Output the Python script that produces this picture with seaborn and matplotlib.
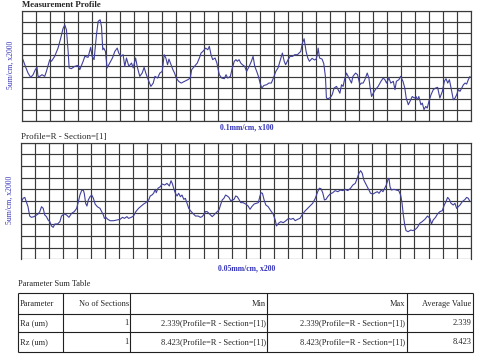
import numpy as np
import pandas as pd
import matplotlib
matplotlib.use("Agg")
import matplotlib.pyplot as plt
import seaborn as sns

# ---------------- data (x in grid divisions, y in grid divisions from bottom) -------------
top_x = [0.07, 0.24, 0.43, 0.62, 0.79, 0.95, 1.07, 1.14, 1.26, 1.43, 1.62, 1.74, 1.98, 2.1, 2.33,
         2.57, 2.76, 2.93, 3.05, 3.17, 3.29, 3.36, 3.52, 3.76, 4.0, 4.12, 4.36, 4.48, 4.71, 4.9,
         5.0, 5.14, 5.31, 5.43, 5.57, 5.67, 5.76, 5.83, 5.95, 6.07, 6.26, 6.45, 6.62, 6.79, 6.9,
         7.05, 7.21, 7.33, 7.45, 7.62, 7.81, 7.93, 8.1, 8.24, 8.4, 8.57, 8.71, 8.83, 9.0, 9.19,
         9.36, 9.48, 9.67, 9.83, 10.0, 10.14, 10.26, 10.38, 10.48, 10.65, 10.76, 10.88, 11.0,
         11.17, 11.35, 11.6, 11.83, 12.0, 12.1, 12.3, 12.5, 12.65, 12.77, 12.9, 13.0, 13.1, 13.25,
         13.36, 13.48, 13.6, 13.77, 13.9, 14.07, 14.24, 14.43, 14.55, 14.67, 14.86, 15.0, 15.14,
         15.26, 15.36, 15.48, 15.6, 15.72, 15.88, 16.02, 16.2, 16.36, 16.48, 16.6, 16.74, 16.86,
         16.98, 17.1, 17.26, 17.45, 17.6, 17.78, 17.93, 18.1, 18.26, 18.4, 18.57, 18.7, 18.8,
         18.98, 19.12, 19.3, 19.45, 19.64, 19.76, 19.88, 20.0, 20.12, 20.26, 20.38, 20.5, 20.69,
         20.86, 20.98, 21.05, 21.12, 21.22, 21.4, 21.52, 21.64, 21.71, 21.83, 22.0, 22.12, 22.26,
         22.43, 22.55, 22.67, 22.79, 22.9, 23.0, 23.14, 23.26, 23.38, 23.5, 23.6, 23.79, 23.93,
         24.1, 24.2, 24.33, 24.45, 24.62, 24.74, 24.83, 24.93, 25.05, 25.2, 25.4, 25.6, 25.76,
         25.88, 26.0, 26.17, 26.3, 26.48, 26.6, 26.7, 26.88, 27.0, 27.17, 27.3, 27.4, 27.55,
         27.67, 27.83, 27.98, 28.1, 28.2, 28.3, 28.45, 28.55, 28.67, 28.79, 28.9, 29.02, 29.17,
         29.33, 29.5, 29.64, 29.8, 29.98, 30.12, 30.24, 30.36, 30.48, 30.6, 30.76, 30.88, 31.0,
         31.12, 31.24, 31.36, 31.48, 31.6, 31.71, 31.83, 31.95]
top_y = [5.55, 4.94, 4.33, 3.94, 4.18, 4.64, 4.85, 4.03, 4.03, 4.18, 4.03, 4.48, 5.55, 5.4, 5.85,
         6.6, 7.5, 8.4, 8.7, 8.27, 6.3, 4.8, 4.73, 4.94, 5.03, 4.64, 5.4, 5.85, 5.76, 6.67,
         5.85, 5.55, 7.8, 9.03, 9.18, 8.57, 6.45, 6.6, 6.3, 4.8, 5.24, 5.7, 6.3, 6.6, 6.15,
         5.85, 6.0, 4.94, 5.7, 4.94, 5.24, 4.8, 5.7, 4.8, 4.03, 4.33, 4.85, 4.33, 3.73, 3.12,
         3.42, 4.03, 3.88, 4.33, 4.48, 6.0, 5.7, 5.09, 5.6, 5.0, 4.64, 4.33, 3.88,
         3.58, 3.42, 3.58, 3.73, 3.88, 4.64, 4.94, 5.24, 5.7, 6.15, 6.3, 6.45, 6.6, 6.45,
         6.76, 6.0, 5.55, 5.7, 5.24, 4.18, 3.88, 3.82, 4.18, 3.88, 4.03, 4.8, 5.4,
         5.55, 5.4, 5.55, 5.24, 5.09, 4.94, 4.48, 4.94, 5.4, 5.85, 4.94, 4.48, 4.03,
         3.42, 2.97, 3.21, 3.27, 3.42, 3.42, 3.88, 4.48, 4.8, 5.4, 6.15, 5.4, 5.09,
         5.55, 5.85, 5.85, 6.0, 6.0, 6.15, 6.3, 7.06, 7.45, 6.3, 5.7, 5.4, 5.67,
         5.52, 5.6, 5.95, 6.6, 5.7, 5.6, 5.2, 4.0, 2.06, 2.0, 2.12, 2.36, 2.97,
         3.12, 2.82, 2.5, 3.27, 3.12, 3.73, 4.33, 4.03, 3.73, 3.42, 4.03, 4.33, 4.18,
         3.27, 3.42, 3.42, 3.73, 4.33, 3.88, 2.97, 2.2, 2.5, 2.82, 3.12, 3.58, 3.88,
         3.73, 3.42, 3.88, 3.42, 3.58, 2.82, 3.58, 3.73, 4.03, 3.58, 2.97, 2.06, 1.45,
         1.76, 2.2, 2.06, 2.2, 1.9, 2.2, 1.45, 1.6, 1.0, 1.3, 1.15, 1.76, 2.36,
         2.82, 2.97, 3.03, 2.06, 2.67, 3.58, 3.82, 3.42, 3.73, 2.97, 1.9, 2.06, 2.36,
         2.82, 2.67, 2.97, 3.27, 3.42, 3.33, 3.73, 4.03]

bot_x = [0.05, 0.17, 0.29, 0.4, 0.52, 0.64, 0.76, 0.95, 1.12, 1.24, 1.36, 1.48, 1.6, 1.71, 1.83,
         1.95, 2.07, 2.19, 2.31, 2.43, 2.62, 2.79, 2.9, 3.1, 3.26, 3.43, 3.62, 3.81, 3.98, 4.1,
         4.21, 4.33, 4.45, 4.52, 4.62, 4.71, 4.81, 4.93, 5.05, 5.17, 5.29, 5.45, 5.64, 5.76, 5.88,
         5.95, 6.05, 6.19, 6.36, 6.6, 6.83, 7.07, 7.24, 7.38, 7.55, 7.67, 7.86, 8.02, 8.19, 8.38,
         8.57, 8.74, 8.9, 9.1, 9.21, 9.33, 9.45, 9.57, 9.64, 9.76, 9.93, 10.05, 10.24, 10.4, 10.57,
         10.69, 10.78, 10.88, 11.0, 11.12, 11.23, 11.36, 11.47, 11.6, 11.71, 11.83, 11.95, 12.07,
         12.24, 12.43, 12.62, 12.78, 12.9, 13.0, 13.14, 13.26, 13.38, 13.5, 13.62, 13.74, 13.9,
         14.1, 14.21, 14.33, 14.45, 14.57, 14.69, 14.81, 14.93, 15.05, 15.17, 15.29, 15.4, 15.52,
         15.64, 15.81, 16.0, 16.17, 16.31, 16.43, 16.6, 16.76, 16.9, 17.0, 17.09, 17.19, 17.31,
         17.43, 17.6, 17.78, 17.95, 18.1, 18.19, 18.33, 18.5, 18.67, 18.86, 19.05, 19.21, 19.38,
         19.52, 19.69, 19.86, 20.05, 20.24, 20.4, 20.57, 20.76, 20.95, 21.12, 21.24, 21.36, 21.48,
         21.6, 21.71, 21.83, 22.0, 22.19, 22.36, 22.55, 22.74, 22.9, 23.07, 23.26, 23.45, 23.62,
         23.79, 23.93, 24.05, 24.17, 24.29, 24.4, 24.52, 24.69, 24.88, 25.05, 25.21, 25.36, 25.48,
         25.64, 25.76, 25.88, 26.0, 26.12, 26.19, 26.26, 26.36, 26.55, 26.71, 26.88, 27.02, 27.12,
         27.21, 27.31, 27.4, 27.55, 27.74, 27.9, 28.07, 28.21, 28.38, 28.55, 28.74, 28.93, 29.1,
         29.21, 29.33, 29.5, 29.64, 29.81, 29.98, 30.12, 30.24, 30.36, 30.48, 30.6, 30.76, 30.88,
         31.0, 31.12, 31.24, 31.4, 31.6, 31.71, 31.83, 31.95]
bot_y = [4.94, 5.23, 5.31, 4.94, 4.51, 3.71, 3.6, 3.66, 3.8, 3.89, 4.09, 4.51, 4.37, 3.8, 3.66,
         3.37, 3.23, 2.86, 2.74, 3.03, 3.03, 3.23, 3.71, 3.89, 3.8, 3.6, 3.94, 4.09, 4.37, 4.94,
         5.51, 5.89, 5.94, 5.66, 4.8, 4.57, 5.09, 5.37, 5.51, 5.23, 4.74, 4.51, 4.37, 4.09, 3.8,
         3.51, 3.6, 3.43, 3.31, 3.31, 3.37, 3.43, 3.6, 3.51, 3.66, 3.51, 3.6, 3.71, 4.09, 4.37,
         4.57, 4.74, 4.86, 5.09, 5.43, 5.51, 5.66, 6.0, 5.71, 6.09, 6.23, 6.46, 6.37, 6.51, 6.29,
         6.74, 6.5, 6.09, 5.66, 5.43, 5.66, 5.37, 5.51, 5.14, 5.23, 4.8, 4.37, 4.17,
         3.94, 3.71, 3.71, 3.6, 3.66, 3.8, 4.09, 4.09, 3.94, 3.8, 3.66, 3.8, 4.0,
         4.23, 4.66, 5.09, 5.23, 5.51, 5.43, 5.31, 5.03, 5.09, 5.14, 5.43, 5.37, 5.14,
         4.86, 4.86, 4.74, 4.57, 4.29, 4.51, 4.74, 4.8, 4.86, 5.37, 5.71, 5.66, 5.09,
         4.66, 4.51, 4.17, 3.89, 3.37, 2.86, 3.09, 3.23, 3.14, 3.31, 3.51, 3.43, 3.51,
         3.31, 3.43, 3.51, 3.89, 4.17, 4.37, 4.57, 4.8, 5.23, 5.8, 6.1, 6.05, 5.7,
         5.09, 5.14, 5.37, 5.6, 5.71, 5.89, 5.8, 5.94, 5.89, 6.0, 5.89, 6.09, 6.37,
         6.51, 6.94, 7.37, 7.6, 7.37, 6.8, 6.51, 6.09, 5.66, 5.6, 5.71, 5.8, 5.66,
         5.94, 5.8, 6.09, 6.37, 6.86, 6.94, 6.23, 5.94, 6.0, 5.94, 5.89, 5.51, 4.8,
         3.8, 2.94, 2.46, 2.37, 2.51, 2.46, 2.57, 2.74, 3.09, 3.23, 3.43, 3.71, 3.51,
         3.03, 3.37, 3.6, 3.89, 4.09, 4.17, 4.66, 4.94, 5.31, 5.14, 4.8, 4.66, 4.8,
         4.37, 4.51, 4.66, 4.94, 5.14, 5.31, 5.23, 4.94]

# table contents
table_header = ["Parameter", "No of Sections", "Min", "Max", "Average Value"]
table_rows = [
    ["Ra (um)", "1", "2.339(Profile=R - Section=[1])", "2.339(Profile=R - Section=[1])", "2.339"],
    ["Rz (um)", "1", "8.423(Profile=R - Section=[1])", "8.423(Profile=R - Section=[1])", "8.423"],
]

# ---------------- styling ----------------
sns.set_theme(style="white")
plt.rcParams['font.family'] = ['Liberation Serif', 'DejaVu Serif']

W, H = 480, 355
LINE_C = "#40409c"
GRID_C = "#3a3a3a"
BLUE_T = "#3434b8"

fig = plt.figure(figsize=(W / 100, H / 100), dpi=100)
fig.patch.set_facecolor("white")


def px_axes(l, t, r, b):
    return fig.add_axes([l / W, 1 - b / H, (r - l) / W, (b - t) / H])


def style_grid(ax, bottom_spine=True):
    ax.set_xlim(0, 32)
    ax.set_ylim(0, 10)
    ax.set_xticks(np.arange(0, 33))
    ax.set_yticks(np.arange(0, 11))
    ax.grid(True, color=GRID_C, linewidth=0.85)
    ax.tick_params(length=0, labelbottom=False, labelleft=False)
    ax.set_xlabel("")
    ax.set_ylabel("")
    for s in ax.spines.values():
        s.set_color(GRID_C)
        s.set_linewidth(0.85)
    if not bottom_spine:
        ax.spines['bottom'].set_visible(False)
    ax.set_facecolor("white")


ax1 = px_axes(22, 10.7, 470.7, 120.7)
df1 = pd.DataFrame({"x": top_x, "y": top_y})
sns.lineplot(data=df1, x="x", y="y", ax=ax1, color=LINE_C, linewidth=0.8,
             estimator=None, sort=False)
style_grid(ax1)

ax2 = px_axes(20.7, 142.7, 470.7, 259.3)
df2 = pd.DataFrame({"x": bot_x, "y": bot_y})
sns.lineplot(data=df2, x="x", y="y", ax=ax2, color=LINE_C, linewidth=0.8,
             estimator=None, sort=False)
style_grid(ax2, bottom_spine=False)


def ftext(x, y, s, **kw):
    fig.text(x / W, 1 - y / H, s, **kw)


ftext(22, 5, "Measurement Profile", fontsize=6.3, fontweight="bold", va="center", ha="left")
ftext(11, 65, "5um/cm, x2000", fontsize=5.6, color=BLUE_T, rotation=90, va="center", ha="center")
ftext(247, 127.5, "0.1mm/cm, x100", fontsize=5.6, color=BLUE_T, fontweight="bold",
      va="center", ha="center")
ftext(21, 137, "Profile=R - Section=[1]", fontsize=6.4, va="center", ha="left")
ftext(10, 200, "5um/cm, x2000", fontsize=5.6, color=BLUE_T, rotation=90, va="center", ha="center")
ftext(247, 268, "0.05mm/cm, x200", fontsize=5.6, color=BLUE_T, fontweight="bold",
      va="center", ha="center")
ftext(18, 284, "Parameter Sum Table", fontsize=6, va="center", ha="left")

# ---------------- table ----------------
tab = fig.add_axes([0, 0, 1, 1])
tab.set_xlim(0, W)
tab.set_ylim(H, 0)
tab.axis("off")
tab.patch.set_alpha(0)

col_edges = [18, 63.3, 130, 267.3, 406.7, 472.7]
row_edges = [292.7, 314.3, 332.3, 351.7]
tab.hlines(row_edges, col_edges[0], col_edges[-1], color="#202020", linewidth=0.8)
tab.vlines(col_edges, row_edges[0], row_edges[-1], color="#202020", linewidth=0.8)

rows = [table_header] + table_rows
for ri, row in enumerate(rows):
    yc = (row_edges[ri] + row_edges[ri + 1]) / 2
    for ci, txt in enumerate(row):
        if ci == 0:
            tab.text(col_edges[0] + 1.5, yc, txt, fontsize=6, ha="left", va="center")
        else:
            tab.text(col_edges[ci + 1] - 1.2, yc, txt, fontsize=6, ha="right", va="center")

fig.savefig("out.png", dpi=100, facecolor="white")
